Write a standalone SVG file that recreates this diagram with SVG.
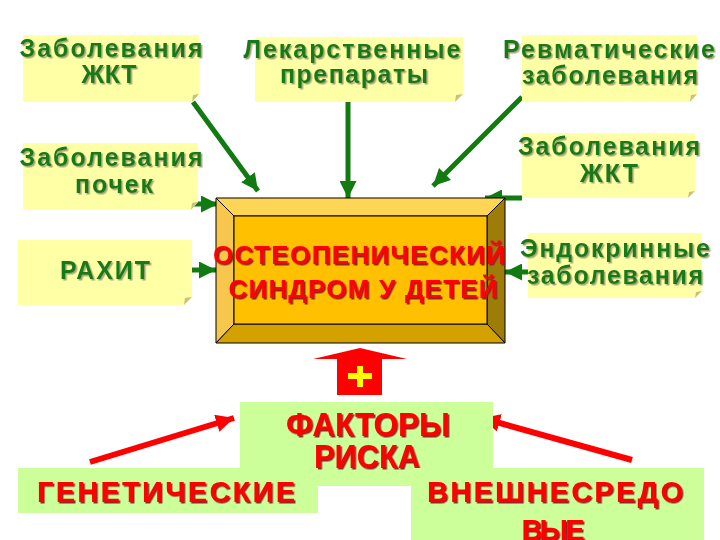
<svg xmlns="http://www.w3.org/2000/svg" width="720" height="540" viewBox="0 0 720 540">
<defs>
<style>
.yb{fill:#FFFFA6}
.fold{fill:#C9C27E}
.gt{font-family:"Liberation Sans",Arial,sans-serif;font-weight:bold;font-size:25px;fill:#187A18;text-anchor:middle;filter:url(#sg)}
.rt{font-family:"Liberation Sans",Arial,sans-serif;font-weight:bold;fill:#FF0000;text-anchor:middle;filter:url(#sr)}
.lg{fill:#CCFF99}
.ga{stroke:#117A11;stroke-width:5;fill:none;marker-end:url(#ag)}
.ra{stroke:#FF0000;stroke-width:6;fill:none;marker-end:url(#ar)}
</style>
<filter id="sg" x="-10%" y="-20%" width="120%" height="150%"><feDropShadow dx="1.5" dy="1.5" stdDeviation="0.4" flood-color="#A6A676"/></filter>
<filter id="sr" x="-10%" y="-20%" width="120%" height="150%"><feDropShadow dx="1.5" dy="1.5" stdDeviation="0.4" flood-color="#9A2020"/></filter>
<marker id="ag" viewBox="0 0 10 10" refX="10" refY="5" markerWidth="3.4" markerHeight="3.4" orient="auto" markerUnits="strokeWidth"><path d="M0,0 L10,5 L0,10 z" fill="#117A11"/></marker>
<marker id="ar" viewBox="0 0 10 10" refX="10" refY="5" markerWidth="3" markerHeight="3" orient="auto" markerUnits="strokeWidth"><path d="M0,0 L10,5 L0,10 z" fill="#FF0000"/></marker>
</defs>
<rect width="720" height="540" fill="#FFFFFF"/>

<g id="connectors">
<line class="ga" x1="193" y1="102" x2="258" y2="191"/>
<line class="ga" x1="348" y1="102" x2="348" y2="198"/>
<line class="ga" x1="522" y1="97" x2="433" y2="186"/>
<line class="ga" x1="192" y1="204" x2="218" y2="204"/>
<line class="ga" x1="192" y1="270" x2="216" y2="270"/>
<line class="ga" x1="522" y1="198" x2="485" y2="198"/>
<line class="ga" x1="528" y1="272" x2="505" y2="272"/>
<line class="ra" x1="90" y1="462" x2="234" y2="418"/>
<line class="ra" x1="632" y1="460" x2="482" y2="418"/>
</g>

<g id="n-zkt1">
<polygon class="yb" points="23,35 199,35 199,94 192,102 23,102"/>
<polygon class="fold" points="192,102 199,94 193,95"/>
<text class="gt"><tspan x="111" y="57" textLength="183">Заболевания</tspan><tspan x="109" y="83" textLength="55">ЖКТ</tspan></text>
</g>
<g id="n-drugs">
<polygon class="yb" points="255,37 463,37 463,94 455,102 255,102"/>
<polygon class="fold" points="455,102 463,94 456,95"/>
<text class="gt"><tspan x="352" y="58" textLength="217">Лекарственные</tspan><tspan x="354" y="83" textLength="148">препараты</tspan></text>
</g>
<g id="n-rheum">
<polygon class="yb" points="522,35 697,35 697,94 690,102 522,102"/>
<polygon class="fold" points="690,102 697,94 691,95"/>
<text class="gt"><tspan x="609" y="58" textLength="212">Ревматические</tspan><tspan x="610" y="84" textLength="176">заболевания</tspan></text>
</g>
<g id="n-kidney">
<polygon class="yb" points="23,143 198,143 198,202 191,210 23,210"/>
<polygon class="fold" points="191,210 198,202 192,203"/>
<text class="gt"><tspan x="111" y="166" textLength="183">Заболевания</tspan><tspan x="114" y="193" textLength="78">почек</tspan></text>
</g>
<g id="n-rickets">
<polygon class="yb" points="18,240 192,240 192,297 184,305 18,305"/>
<polygon class="fold" points="184,305 192,297 185,298"/>
<text class="gt"><tspan x="105" y="279" textLength="90">РАХИТ</tspan></text>
</g>
<g id="n-zkt2">
<polygon class="yb" points="522,133 695,133 695,191 688,198 522,198"/>
<polygon class="fold" points="688,198 695,191 689,192"/>
<text class="gt"><tspan x="609" y="155" textLength="182">Заболевания</tspan><tspan x="609" y="182" textLength="58">ЖКТ</tspan></text>
</g>
<g id="n-endo">
<polygon class="yb" points="528,233 702,233 702,291 695,298 528,298"/>
<polygon class="fold" points="695,298 702,291 696,292"/>
<text class="gt"><tspan x="615" y="257" textLength="190">Эндокринные</tspan><tspan x="615" y="284" textLength="176">заболевания</tspan></text>
</g>

<g id="n-center" stroke="#000" stroke-width="1">
<polygon points="216,198 505,198 487,216 234,216" fill="#FFD556"/>
<polygon points="216,198 234,216 234,324 216,343" fill="#F7C64C"/>
<polygon points="505,198 505,343 487,324 487,216" fill="#9E7C0A"/>
<polygon points="216,343 234,324 487,324 505,343" fill="#D4A200"/>
<rect x="234" y="216" width="253" height="108" fill="#FFC000"/>
<text class="rt" font-size="26" stroke="none"><tspan x="359" y="264" textLength="292">ОСТЕОПЕНИЧЕСКИЙ</tspan><tspan x="363" y="298" textLength="269">СИНДРОМ У ДЕТЕЙ</tspan></text>
</g>

<g id="n-plus">
<polygon points="360,348 407,359 382,359 382,395 337,395 337,359 313,359" fill="#FF0000"/>
<rect x="348" y="373" width="24" height="6" fill="#FFFF00"/>
<rect x="357" y="366" width="6" height="21" fill="#FFFF00"/>
</g>

<g id="n-factors">
<rect class="lg" x="240" y="402" width="253" height="84"/>
<text class="rt" font-size="34"><tspan x="368" y="436" textLength="164" lengthAdjust="spacingAndGlyphs">ФАКТОРЫ</tspan><tspan x="367" y="468" textLength="106" lengthAdjust="spacingAndGlyphs">РИСКА</tspan></text>
</g>
<g id="n-genetic">
<rect class="lg" x="18" y="468" width="300" height="45"/>
<text class="rt" font-size="29"><tspan x="166" y="502" textLength="258">ГЕНЕТИЧЕСКИЕ</tspan></text>
</g>
<g id="n-env">
<rect class="lg" x="411" y="468" width="293" height="80"/>
<text class="rt" font-size="29"><tspan x="555" y="502" textLength="256">ВНЕШНЕСРЕДО</tspan><tspan x="553" y="540" textLength="63">ВЫЕ</tspan></text>
</g>
</svg>
